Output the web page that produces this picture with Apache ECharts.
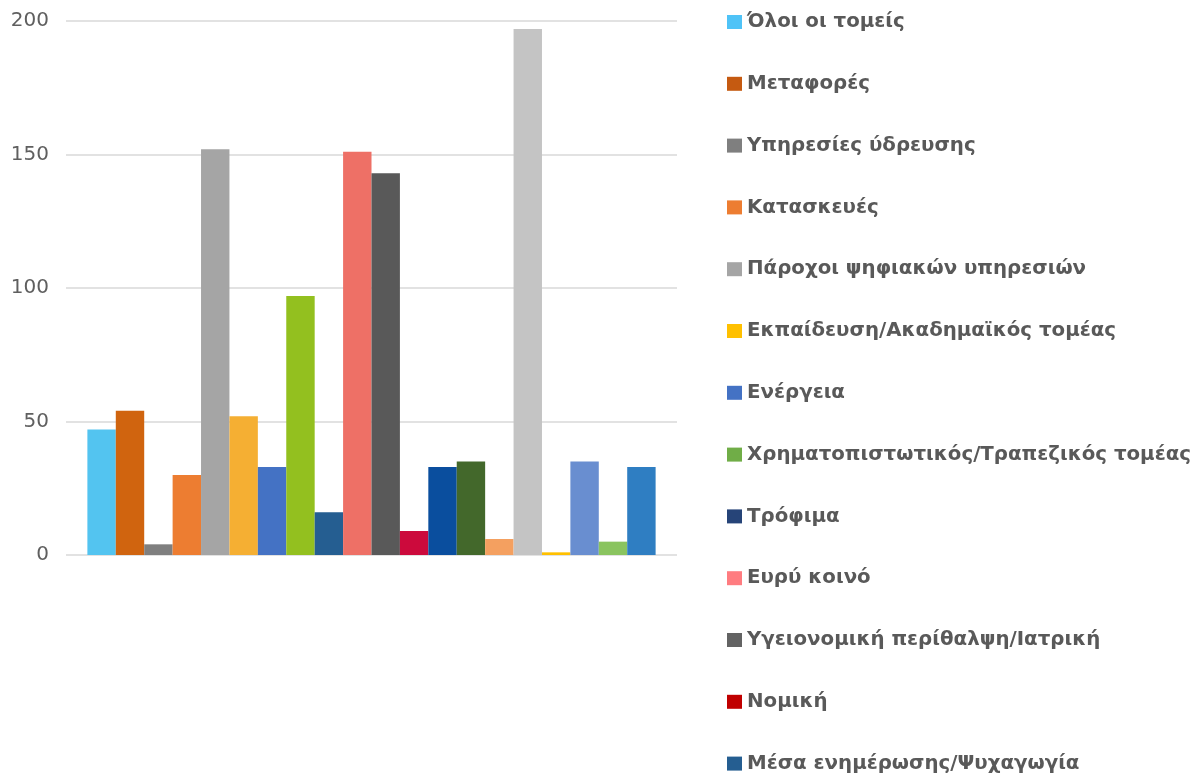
<!DOCTYPE html>
<html>
<head>
<meta charset="utf-8">
<script src="https://cdn.jsdelivr.net/npm/echarts@6/dist/echarts.min.js"></script>
<style>
  html, body { margin: 0; padding: 0; background: #fff; }
  #chart { width: 1200px; height: 776px; }
</style>
</head>
<body>
<div id="chart"></div>
<script>
// τομείς (σειρές) - μόνο οι 13 πρώτοι φαίνονται στο υπόμνημα
var sectors = [
  'Όλοι οι τομείς',
  'Μεταφορές',
  'Υπηρεσίες ύδρευσης',
  'Κατασκευές',
  'Πάροχοι ψηφιακών υπηρεσιών',
  'Εκπαίδευση/Ακαδημαϊκός τομέας',
  'Ενέργεια',
  'Χρηματοπιστωτικός/Τραπεζικός τομέας',
  'Τρόφιμα',
  'Ευρύ κοινό',
  'Υγειονομική περίθαλψη/Ιατρική',
  'Νομική',
  'Μέσα ενημέρωσης/Ψυχαγωγία',
  'Σειρά 14', 'Σειρά 15', 'Σειρά 16', 'Σειρά 17', 'Σειρά 18', 'Σειρά 19', 'Σειρά 20'
];
var values = [47, 54, 4, 30, 152, 52, 33, 97, 16, 151, 143, 9, 33, 35, 6, 197, 1, 35, 5, 33];
var yTicks = [0, 50, 100, 150, 200];
var legendCount = 13;

// χρώματα ράβδων
var barColors = [
  '#53c4f0', '#d0640f', '#7f7f7f', '#ed7d31', '#a5a5a5', '#f5af33', '#4472c4',
  '#93c01f', '#255e91', '#ee7066', '#595959', '#cc0a3c', '#0a4e9e', '#43682b',
  '#f4a060', '#c4c4c4', '#ffc000', '#698ed0', '#8ac45f', '#2f7ec2'
];
// χρώματα εικονιδίων υπομνήματος (διαφέρουν λίγο)
var legendColors = [
  '#4fc3f7', '#c55a11', '#7f7f7f', '#ed7d31', '#a5a5a5', '#ffc000', '#4472c4',
  '#70ad47', '#264478', '#ff7c80', '#636363', '#c00000', '#255e91'
];

var chart = echarts.init(document.getElementById('chart'));

var series = sectors.map(function (name, i) {
  return {
    name: name,
    type: 'bar',
    data: [values[i]],
    itemStyle: { color: barColors[i] },
    barGap: '0%',
    barCategoryGap: '7%'
  };
});

var legendData = sectors.slice(0, legendCount).map(function (name, i) {
  return { name: name, itemStyle: { color: legendColors[i] } };
});

chart.setOption({
  animation: false,
  grid: { left: 66, right: 523, top: 21, bottom: 221, containLabel: false },
  xAxis: {
    type: 'category',
    data: [''],
    axisLine: { show: false },
    axisTick: { show: false },
    axisLabel: { show: false }
  },
  yAxis: {
    type: 'value',
    min: yTicks[0],
    max: yTicks[yTicks.length - 1],
    interval: 50,
    axisLine: { show: false },
    axisTick: { show: false },
    axisLabel: {
      margin: 17,
      fontSize: 20,
      color: '#5f5f5f',
      fontFamily: 'DejaVu Sans'
    },
    splitLine: { lineStyle: { color: '#d9d9d9', width: 1.5 } }
  },
  legend: {
    orient: 'vertical',
    left: 727,
    top: 12,
    padding: 0,
    height: 770,
    itemWidth: 15,
    itemHeight: 14,
    itemGap: 41.8,
    icon: 'rect',
    data: legendData,
    textStyle: {
      fontSize: 19.8,
      fontWeight: 'bold',
      color: '#595959',
      fontFamily: 'DejaVu Sans',
      lineHeight: 20
    }
  },
  series: series
});
</script>
</body>
</html>
